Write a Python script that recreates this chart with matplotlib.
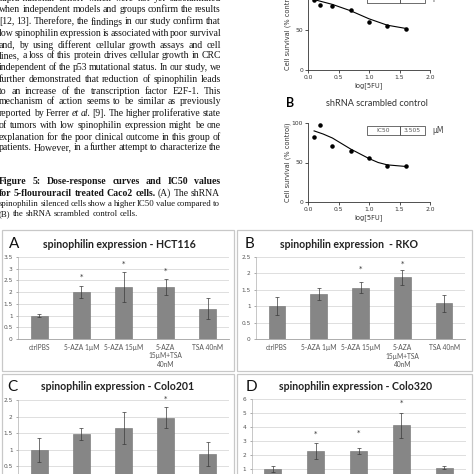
import matplotlib
matplotlib.use("Agg")
import matplotlib.pyplot as plt
from matplotlib.patches import Rectangle
from matplotlib.ticker import FormatStrFormatter

W = H = 474

# ---- page text ----
para_lines = [
    "supra-national cohort which were not yet substantiated",
    "when independent models and groups confirm the results",
    "[12, 13]. Therefore, the findings in our study confirm that",
    "low spinophilin expression is associated with poor survival",
    "and, by using different cellular growth assays and cell",
    "lines, a loss of this protein drives cellular growth in CRC",
    "independent of the p53 mutational status. In our study, we",
    "further demonstrated that reduction of spinophilin leads",
    "to an increase of the transcription factor E2F-1. This",
    "mechanism of action seems to be similar as previously",
    "reported by Ferrer et al. [9]. The higher proliferative state",
    "of tumors with low spinophilin expression might be one",
    "explanation for the poor clinical outcome in this group of",
    "patients. However, in a further attempt to characterize the",
]
caption_lines = [
    "Figure 5: Dose-response curves and IC50 values",
    "for 5-flourouracil treated Caco2 cells. (A) The shRNA",
    "spinophilin silenced cells show a higher IC50 value compared to",
    "(B) the shRNA scrambled control cells.",
]

# ---- dose response (5FU, Caco2) ----
log_dose = [0.1, 0.2, 0.4, 0.7, 1.0, 1.3, 1.6]
surv_sh = [88, 81, 80, 75, 60, 55, 51]
surv_scr = [82, 98, 71, 65, 56, 45, 45]
fit_x = [0.1, 0.25, 0.4, 0.55, 0.7, 0.85, 1.0, 1.15, 1.3, 1.45, 1.6]
fit_sh = [88, 85, 82, 78, 74, 69, 64, 60, 56, 54, 52]
fit_scr = [90, 86, 81, 74, 67, 61, 55, 50, 47, 46, 45]
ic50_sh = "5.889"
ic50_scr = "3.505"

# ---- spinophilin expression ----
cats = ["ctrlPBS", "5-AZA 1\u00b5M", "5-AZA 15\u00b5M", "5-AZA\n15\u00b5M+TSA\n40nM", "TSA 40nM"]
hct116 = [1.0, 2.0, 2.22, 2.22, 1.3]
hct116_err = [0.05, 0.27, 0.62, 0.36, 0.43]
hct116_star = [None, 2.65, 3.22, 2.92, None]
rko = [1.0, 1.38, 1.57, 1.88, 1.1]
rko_err = [0.27, 0.19, 0.16, 0.22, 0.26]
rko_star = [None, None, 2.15, 2.28, None]
colo201 = [1.0, 1.48, 1.65, 1.97, 0.88]
colo201_err = [0.37, 0.17, 0.49, 0.31, 0.37]
colo201_star = [None, None, None, 2.55, None]
colo320 = [1.0, 2.28, 2.3, 4.12, 1.1]
colo320_err = [0.24, 0.58, 0.23, 0.9, 0.12]
colo320_star = [None, 3.55, 3.6, 5.75, None]

fig = plt.figure(figsize=(4.74, 4.74), dpi=100)
renderer = fig.canvas.get_renderer()


def fx(px):
    return px / W


def fy(py):
    return 1 - py / H


def add_ax(left, top, right, bottom):
    return fig.add_axes([fx(left), fy(bottom), (right - left) / W, (bottom - top) / H])


def word_width(w, props, size):
    t = fig.text(0, 0, w, **dict(props, fontsize=size))
    wd = t.get_window_extent(renderer).width
    t.remove()
    return wd


def fit_size(lines, props, width, min_gap=0.22):
    # largest font size so that every line fits with a small word gap
    base = 10.0
    need = 0
    for line in lines:
        ws = line.split()
        tot = sum(word_width(w, props, base) for w in ws) + (len(ws) - 1) * min_gap * base * 100 / 72
        need = max(need, tot)
    return base * width / need


def put_line(words, y, x0, x1, justify=True):
    # words: list of (text, props)
    texts = [fig.text(0, fy(y), w, ha="left", va="center", **p) for w, p in words]
    widths = [t.get_window_extent(renderer).width for t in texts]
    if justify and len(texts) > 1:
        gap = (x1 - x0 - sum(widths)) / (len(texts) - 1)
    else:
        gap = texts[0].get_fontsize() * 0.35
    x = x0
    for t, w in zip(texts, widths):
        t.set_x(fx(x))
        x += w + gap


serif = dict(family="Liberation Serif", color="#151515")
body_size = fit_size(para_lines[1:], serif, 222, min_gap=0.12)
body = dict(serif, fontsize=body_size)
para_y = [-1.5, 10, 22, 33, 45, 56, 68, 79, 91, 102, 113, 125, 137, 148]
for line, y in zip(para_lines, para_y):
    words = []
    for w in line.split():
        p = dict(body)
        if w in ("et", "al."):
            p["style"] = "italic"
        words.append((w, p))
    put_line(words, y, -1, 221)

cap_bold = dict(serif, fontsize=body_size, weight="bold")
small_size = fit_size(caption_lines[2:3], serif, 221, min_gap=0.2)
cap_norm = dict(serif, fontsize=small_size)
cap_y = [182, 193, 204, 214]
put_line([(w, cap_bold) for w in caption_lines[0].split()], cap_y[0], -1, 220)
cw = caption_lines[1].split()
put_line([(w, cap_bold if i < 5 else dict(cap_norm, fontsize=small_size * 1.1)) for i, w in enumerate(cw)],
         cap_y[1], -1, 220)
put_line([(w, cap_norm) for w in caption_lines[2].split()], cap_y[2], -1, 220)
put_line([(w, cap_norm) for w in caption_lines[3].split()], cap_y[3], -1, 220, justify=False)


# ---- dose response panels ----
def dose_panel(top, bottom, surv, fit, ic50):
    ax = add_ax(308, top, 430, bottom)
    ax.scatter(log_dose, surv, s=5, color="black", zorder=3, clip_on=False)
    ax.plot(fit_x, fit, color="black", lw=0.8)
    ax.set_xlim(0, 2)
    ax.set_ylim(0, 100)
    ax.set_xticks([0, 0.5, 1.0, 1.5, 2.0])
    ax.xaxis.set_major_formatter(FormatStrFormatter("%.1f"))
    ax.set_yticks([0, 50, 100])
    for s in ("top", "right"):
        ax.spines[s].set_visible(False)
    for s in ("left", "bottom"):
        ax.spines[s].set_linewidth(0.6)
        ax.spines[s].set_color("#333333")
    ax.tick_params(length=2, width=0.6, labelsize=4.3, pad=1.5, colors="#333333")
    ax.set_xlabel("log[5FU]", fontsize=4.8, labelpad=1.5, color="#333333")
    ax.set_ylabel("Cell survival (% control)", fontsize=4.8, labelpad=0.5, color="#333333")
    ax.patch.set_alpha(0)
    yc = top + (bottom - top) * 0.1
    fig.patches.append(Rectangle((fx(367), fy(yc + 4.5)), 33 / W, 9 / H, transform=fig.transFigure,
                                 fill=False, ec="#555555", lw=0.6))
    fig.patches.append(Rectangle((fx(400), fy(yc + 4.5)), 25 / W, 9 / H, transform=fig.transFigure,
                                 fill=False, ec="#555555", lw=0.6))
    fig.text(fx(383), fy(yc), "IC50", fontsize=4.3, ha="center", va="center", color="#555555")
    fig.text(fx(412.5), fy(yc), ic50, fontsize=4.3, ha="center", va="center", color="#555555")
    fig.text(fx(432), fy(yc), "\u03bcM", fontsize=5.5, ha="left", va="center", color="#444444")


dose_panel(-10, 70, surv_sh, fit_sh, ic50_sh)
dose_panel(123, 202, surv_scr, fit_scr, ic50_scr)
fig.text(fx(290), fy(103), "B", fontsize=9, weight="bold", ha="center", va="center", family="Lato")
fig.text(fx(377), fy(103), "shRNA scrambled control", fontsize=6.6, ha="center", va="center",
         family="Lato", color="#333333")


# ---- spinophilin bar panels ----
def bar_panel(box, rect, letter, letter_x, title, title_x, title_y, vals, errs, stars, ymax, ystep):
    bx0, by0, bx1, by1 = box
    fig.patches.append(Rectangle((fx(bx0), fy(by1)), (bx1 - bx0) / W, (by1 - by0) / H,
                                 transform=fig.transFigure, fill=False, ec="#c8c8c8", lw=0.9))
    fig.text(fx(letter_x), fy(title_y), letter, fontsize=11, ha="center", va="center",
             family="Lato", color="#111111")
    fig.text(fx(title_x), fy(title_y), title, fontsize=7.6, weight="bold", ha="center", va="center",
             family="Lato", color="#222222")
    ax = add_ax(*rect)
    xs = list(range(len(vals)))
    ax.bar(xs, vals, width=0.4, color="#868686", edgecolor="#707070", lw=0.4, zorder=2)
    ax.errorbar(xs, vals, yerr=errs, fmt="none", ecolor="#3a3a3a", elinewidth=0.5,
                capsize=1.3, capthick=0.5, zorder=3)
    for x, s in zip(xs, stars):
        if s is not None:
            ax.text(x, s, "*", fontsize=5, ha="center", va="center", color="#333333")
    ax.set_xlim(-0.5, len(vals) - 0.5)
    ax.set_ylim(0, ymax)
    ticks = [i * ystep for i in range(int(round(ymax / ystep)) + 1)]
    ax.set_yticks(ticks)
    ax.yaxis.set_major_formatter(FormatStrFormatter("%g"))
    ax.set_xticks(xs)
    ax.set_xticklabels(cats, fontsize=4.8, color="#555555", linespacing=1.25, family="Lato")
    ax.tick_params(axis="x", length=0, pad=3.5)
    ax.tick_params(axis="y", length=1.8, width=0.5, labelsize=4.2, pad=2, colors="#8a8a8a",
                   labelcolor="#555555")
    ax.yaxis.grid(True, color="#d9d9d9", lw=0.6)
    ax.set_axisbelow(True)
    for s in ("top", "right"):
        ax.spines[s].set_visible(False)
    ax.spines["left"].set_color("#b0b0b0")
    ax.spines["left"].set_linewidth(0.5)
    ax.spines["bottom"].set_color("#a0a0a0")
    ax.spines["bottom"].set_linewidth(0.6)
    ax.patch.set_alpha(0)


bar_panel((2, 230, 234, 371), (18, 257, 229, 339), "A", 14,
          "spinophilin expression - HCT116", 119, 244, hct116, hct116_err, hct116_star, 3.5, 0.5)
bar_panel((237, 230, 472, 371), (256, 257, 465, 339.3), "B", 249,
          "spinophilin expression  - RKO", 349, 244, rko, rko_err, rko_star, 2.5, 0.5)
bar_panel((2, 374, 234, 490), (18, 400, 229, 483), "C", 12,
          "spinophilin expression - Colo201", 118, 387, colo201, colo201_err, colo201_star, 2.5, 0.5)
bar_panel((237, 374, 472, 490), (251.5, 399, 465.5, 483), "D", 251,
          "spinophilin expression - Colo320", 356, 387, colo320, colo320_err, colo320_star, 6, 1)

fig.savefig("out.png", dpi=100, facecolor="white")
